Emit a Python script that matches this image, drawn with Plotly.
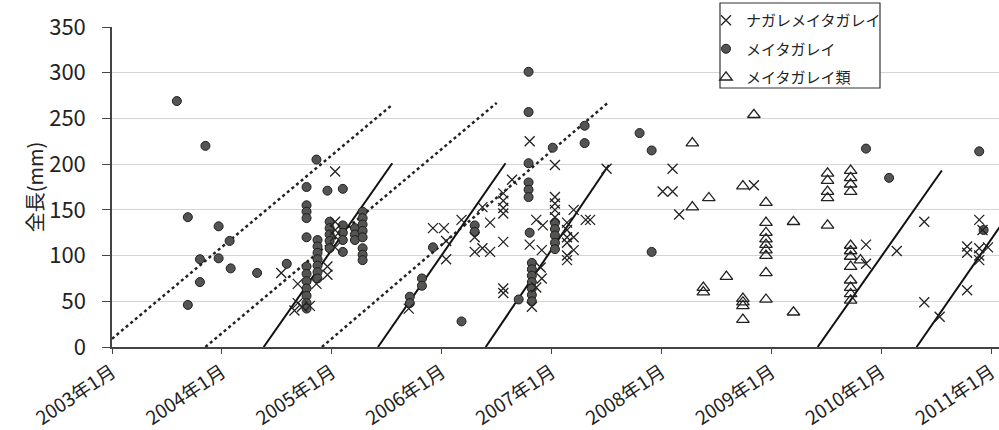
import plotly.graph_objects as go

# ---- data (x in decimal years, y = total length in mm) ----
nagare_x = [2004.54, 2005.03, 2004.69, 2004.86, 2004.96, 2004.96, 2005.03, 2005.03, 2005.03, 2005.03,
            2004.73, 2004.69, 2004.80, 2004.66,
            2005.70, 2005.92, 2006.02, 2006.04, 2006.04, 2006.18, 2006.30, 2006.30, 2006.44, 2006.37,
            2006.64, 2006.56, 2006.56, 2006.56, 2006.56, 2006.44, 2006.56, 2006.37, 2006.56, 2006.56,
            2006.80, 2007.03, 2007.50, 2006.80, 2006.86, 2006.92, 2007.03, 2007.03, 2007.03, 2007.03,
            2007.14, 2007.14, 2007.14, 2007.14, 2007.20, 2007.20, 2007.14, 2007.14, 2007.20, 2007.31,
            2007.35, 2006.91, 2006.91, 2006.90, 2006.82, 2006.86,
            2008.10, 2008.01, 2008.10, 2008.16, 2008.84,
            2009.86, 2009.86, 2010.14, 2010.39, 2010.39, 2010.53, 2010.78, 2010.78, 2010.78,
            2010.89, 2010.89, 2010.89, 2010.89, 2010.97, 2010.92]
nagare_y = [81, 192, 69, 69, 79, 88, 137, 128, 121, 109,
            44, 48, 45, 40,
            42, 130, 130, 116, 96, 139, 120, 104, 104, 153,
            183, 168, 160, 152, 146, 136, 115, 108, 64, 59,
            225, 199, 195, 112, 139, 133, 164, 157, 150, 142,
            136, 128, 120, 114, 150, 120, 100, 95, 106, 139,
            139, 106, 75, 87, 44, 65,
            195, 170, 170, 145, 177,
            112, 91, 105, 137, 49, 33, 62, 110, 103,
            139, 108, 100, 95, 109, 128]

meita_x = [2003.59, 2003.85, 2003.69, 2003.97, 2004.07, 2003.80, 2003.97, 2004.08, 2003.80, 2003.69,
           2004.32, 2004.59,
           2004.86, 2004.77, 2004.96, 2005.10, 2004.77, 2004.77, 2004.77, 2004.77,
           2004.87, 2004.87, 2004.87, 2004.87, 2004.87, 2004.87, 2004.87,
           2004.77, 2004.77, 2004.77, 2004.77, 2004.77, 2004.77, 2004.77,
           2004.98, 2004.98, 2004.98, 2004.98, 2004.98,
           2005.10, 2005.10, 2005.10, 2005.10,
           2005.21, 2005.21, 2005.21,
           2005.28, 2005.28, 2005.28, 2005.28, 2005.28, 2005.28, 2005.28, 2005.28,
           2005.82, 2005.82, 2005.71, 2005.71, 2005.92, 2006.18, 2006.30, 2006.30,
           2006.79, 2006.79, 2006.79, 2006.79, 2006.79, 2006.79, 2006.80,
           2006.82, 2006.82, 2006.82, 2006.82, 2006.82, 2006.82, 2006.82, 2006.70,
           2007.01, 2007.30, 2007.30,
           2007.03, 2007.03, 2007.03, 2007.03, 2007.03,
           2007.80, 2007.91, 2007.91,
           2009.86, 2010.07, 2010.89, 2010.93]
meita_y = [269, 220, 142, 132, 116, 96, 97, 86, 71, 46,
           81, 91,
           205, 175, 171, 173, 155, 148, 141, 120,
           117, 110, 103, 96, 89, 82, 75,
           88, 80, 72, 64, 56, 48, 42,
           137, 130, 123, 116, 108,
           133, 125, 117, 104,
           130, 123, 117,
           148, 141, 134, 127, 120, 108, 101, 95,
           75, 67, 55, 48, 109, 28, 133, 126,
           301, 257, 201, 180, 172, 164, 125,
           92, 85, 78, 71, 64, 57, 50, 52,
           218, 242, 223,
           136, 129, 122, 114, 107,
           234, 215, 104,
           217, 185, 214, 128]

rui_x = [2008.28, 2008.28, 2008.43, 2008.84, 2008.74, 2008.95, 2008.95,
         2008.95, 2008.95, 2008.95, 2008.95, 2008.95, 2008.95, 2008.95,
         2009.20, 2009.20, 2008.59, 2008.38, 2008.38, 2008.74, 2008.74, 2008.74, 2008.74,
         2009.51, 2009.51, 2009.51, 2009.51, 2009.72, 2009.72, 2009.72, 2009.72,
         2009.51, 2009.72, 2009.72, 2009.72, 2009.72, 2009.81,
         2009.72, 2009.72, 2009.72, 2009.72]
rui_y = [223, 153, 163, 254, 176, 158, 136,
         125, 118, 112, 106, 100, 81, 52,
         137, 38, 77, 65, 60, 53, 49, 45, 30,
         190, 182, 170, 163, 193, 185, 178, 170,
         133, 111, 105, 99, 88, 95,
         73, 65, 58, 51]

# growth lines (start / end points)
dotted_lines = [((2003.00, 9), (2005.55, 265)),
                ((2003.85, 0), (2006.50, 267)),
                ((2004.91, 0), (2007.51, 267))]
solid_lines = [((2004.38, 0), (2005.55, 201)),
               ((2005.42, 0), (2006.58, 201)),
               ((2006.40, 0), (2007.52, 199)),
               ((2009.42, 0), (2010.55, 193)),
               ((2010.32, 0), (2011.45, 196))]

years = list(range(2003, 2012))
year_labels = [f"{y}年1月" for y in years]
y_ticks = [0, 50, 100, 150, 200, 250, 300, 350]

FONT = "Noto Sans CJK JP"
L, T, W, H = 112, 27, 887, 320   # plot area in px (for the legend frame)

fig = go.Figure()
for (p0, p1) in dotted_lines:
    fig.add_trace(go.Scatter(x=[p0[0], p1[0]], y=[p0[1], p1[1]], mode="lines",
                             line=dict(color="#222", width=2.5, dash="dot"),
                             showlegend=False, hoverinfo="skip"))
for (p0, p1) in solid_lines:
    fig.add_trace(go.Scatter(x=[p0[0], p1[0]], y=[p0[1], p1[1]], mode="lines",
                             line=dict(color="#111", width=2),
                             showlegend=False, hoverinfo="skip"))

fig.add_trace(go.Scatter(x=meita_x, y=meita_y, mode="markers", name="メイタガレイ",
                         marker=dict(symbol="circle", size=9, color="#545452",
                                     line=dict(color="#1e1e1e", width=1)),
                         legendrank=2, legendgroup="b"))
fig.add_trace(go.Scatter(x=nagare_x, y=nagare_y, mode="markers", name="ナガレメイタガレイ",
                         marker=dict(symbol="x-thin", size=10,
                                     line=dict(color="#222", width=1.3)),
                         legendrank=1, legendgroup="a"))
fig.add_trace(go.Scatter(x=rui_x, y=rui_y, mode="markers", name="メイタガレイ類",
                         marker=dict(symbol="triangle-up-open", size=11, color="#222",
                                     line=dict(width=1.3)),
                         legendrank=3, legendgroup="c"))

# legend frame (white box with dark border)
fig.add_shape(type="rect", xref="paper", yref="paper", layer="above",
              x0=(720 - L) / W, x1=(880 - L) / W,
              y0=(T + H - 88) / H, y1=(T + H - 3) / H,
              fillcolor="white", line=dict(color="#333", width=1.2))

fig.update_layout(
    width=999, height=430,
    margin=dict(l=L, r=0, t=T, b=83, autoexpand=False),
    paper_bgcolor="white", plot_bgcolor="white",
    font=dict(family=FONT, size=16, color="#222"),
    legend=dict(x=(706 - L) / W, y=(T + H - 4) / H, xanchor="left", yanchor="top",
                bgcolor="rgba(0,0,0,0)", borderwidth=0,
                font=dict(size=15, color="#222"), itemwidth=30,
                tracegroupgap=6),
    xaxis=dict(range=[2003.0, 2011.07], tickmode="array", tickvals=years,
               ticktext=year_labels, tickangle=-34, ticks="outside", ticklen=5,
               tickcolor="#444", showline=True, linecolor="#444", linewidth=1.5,
               showgrid=False, zeroline=False, automargin=False,
               ticklabeloverflow="allow",
               tickfont=dict(size=19, color="#222")),
    yaxis=dict(range=[0, 350], tickvals=y_ticks, ticks="outside", ticklen=8,
               tickcolor="#444", showline=True, linecolor="#444", linewidth=1.5,
               showgrid=True, gridcolor="#d4d4d4", gridwidth=1, zeroline=False,
               automargin=False,
               tickfont=dict(size=22, color="#222"), ticklabelstandoff=12,
               title=dict(text="全長(mm)", font=dict(size=20, color="#222"), standoff=0)),
)

fig.write_html("out.html")
